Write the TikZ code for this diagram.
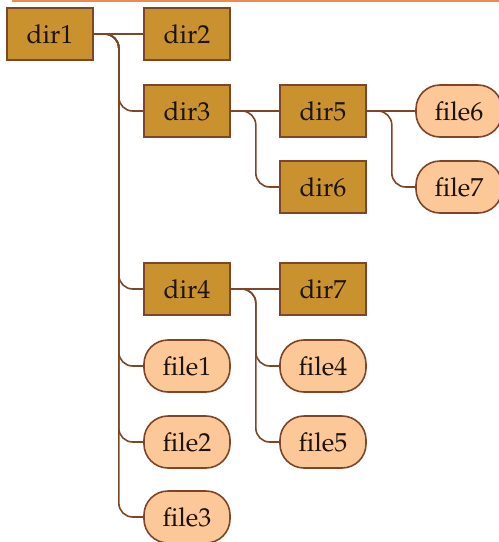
\documentclass[tikz,border=0pt]{standalone}
\usepackage[T1]{fontenc}
\usepackage{mathpazo}
\definecolor{dirfill}{HTML}{C9922F}
\definecolor{filefill}{HTML}{FDC898}
\definecolor{edge}{HTML}{7E4628}
\definecolor{topline}{HTML}{F08A4B}

\begin{document}
\begin{tikzpicture}[x=0.5pt,y=-0.5pt,
    every node/.style={font=\fontsize{13}{15}\selectfont, text=black!85!brown},
    dirbox/.style={draw=edge, line width=0.8pt, fill=dirfill, minimum width=43pt, minimum height=26pt, inner sep=0pt},
    filebox/.style={draw=edge, line width=0.8pt, fill=filefill, rounded corners=12pt, minimum width=43pt, minimum height=26pt, inner sep=0pt},
    link/.style={draw=edge, line width=0.8pt, rounded corners=7pt}]
    \useasboundingbox (0,0) rectangle (499,542);
    \draw[topline, line width=1.2pt] (12,1) -- (499,1);
    % directories
    \node[dirbox] (d1) at (50,34) {dir1};
    \node[dirbox] (d2) at (187,34) {dir2};
    \node[dirbox] (d3) at (187,111) {dir3};
    \node[dirbox] (d5) at (323,111) {dir5};
    \node[dirbox] (d6) at (323,187) {dir6};
    \node[dirbox] (d4) at (187,289) {dir4};
    \node[dirbox] (d7) at (323,289) {dir7};
    % files
    \node[filebox] (f6) at (459,111) {file6};
    \node[filebox] (f7) at (459,187) {file7};
    \node[filebox] (f1) at (187,366) {file1};
    \node[filebox] (f4) at (323,366) {file4};
    \node[filebox] (f2) at (187,442) {file2};
    \node[filebox] (f5) at (323,442) {file5};
    \node[filebox] (f3) at (187,517) {file3};
    % connectors: first child straight, the others bend down
    \foreach \p/\c in {d1/d2, d3/d5, d5/f6, d4/d7}
        \draw[link] (\p.east) -- (\c.west);
    \foreach \p/\c in {d1/d3, d1/d4, d1/f1, d1/f2, d1/f3, d3/d6, d5/f7, d4/f4, d4/f5}
        \draw[link] (\p.east) -- ++(25,0) |- (\c.west);
\end{tikzpicture}
\end{document}
